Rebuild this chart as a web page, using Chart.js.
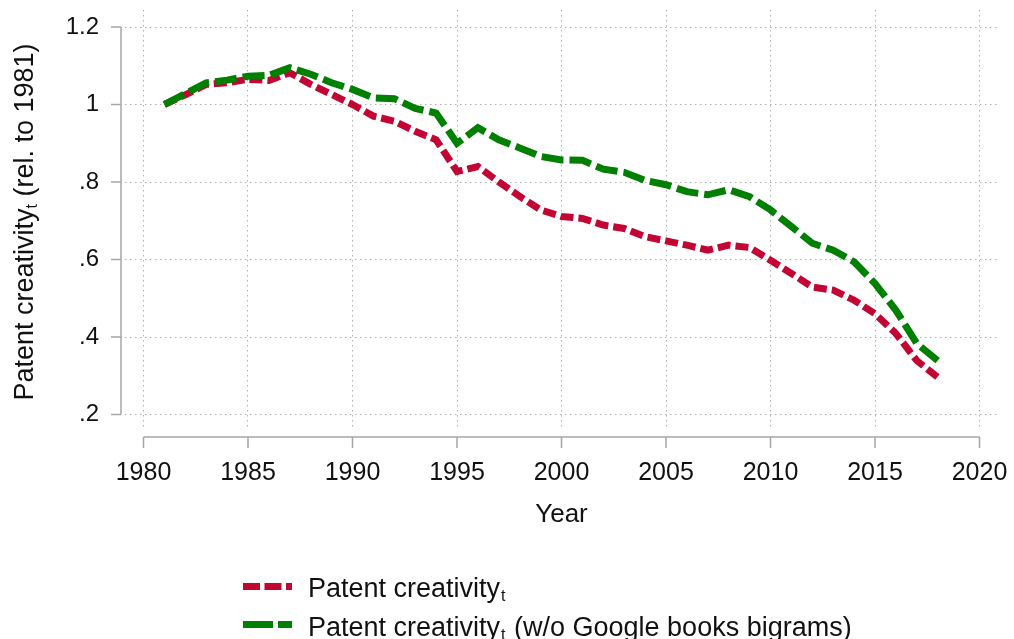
<!DOCTYPE html>
<html lang="en">
<head>
<meta charset="UTF-8">
<title>Patent creativity</title>
<script src="https://cdn.jsdelivr.net/npm/chart.js"></script>
<style>
  html, body { margin: 0; padding: 0; background: #fff; }
  #wrap { width: 1014px; height: 639px; }
</style>
</head>
<body>
<div id="wrap"><canvas id="myChart" width="1014" height="639"></canvas></div>
<script>
// data
var years = [1981, 1982, 1983, 1984, 1985, 1986, 1987, 1988, 1989, 1990,
             1991, 1992, 1993, 1994, 1995, 1996, 1997, 1998, 1999, 2000,
             2001, 2002, 2003, 2004, 2005, 2006, 2007, 2008, 2009, 2010,
             2011, 2012, 2013, 2014, 2015, 2016, 2017, 2018];
var creativity = [1.0, 1.025, 1.052, 1.056, 1.065, 1.062, 1.082, 1.052, 1.026, 1.0,
                  0.97, 0.957, 0.931, 0.909, 0.827, 0.84, 0.80, 0.763, 0.728, 0.711,
                  0.706, 0.689, 0.68, 0.659, 0.648, 0.637, 0.624, 0.637, 0.631, 0.598,
                  0.564, 0.529, 0.521, 0.495, 0.46, 0.409, 0.339, 0.296];
var creativityNoGoogle = [1.0, 1.028, 1.056, 1.063, 1.073, 1.075, 1.095, 1.078, 1.056, 1.039,
                          1.017, 1.015, 0.99, 0.978, 0.90, 0.94, 0.909, 0.888, 0.866, 0.857,
                          0.856, 0.833, 0.825, 0.804, 0.793, 0.775, 0.767, 0.78, 0.762, 0.728,
                          0.685, 0.642, 0.624, 0.594, 0.538, 0.469, 0.383, 0.339];
var xTicks = [1980, 1985, 1990, 1995, 2000, 2005, 2010, 2015, 2020];
var yTicks = [0.2, 0.4, 0.6, 0.8, 1.0, 1.2];
var yTickLabels = ['.2', '.4', '.6', '.8', '1', '1.2'];
var seriesNames = ['Patent creativity', 'Patent creativity'];
var seriesSuffix = ['', ' (w/o Google books bigrams)'];
var xTitle = 'Year';

var RED = 'rgb(195, 5, 52)';
var GREEN = 'rgb(0, 128, 0)';
var AXIS = '#a6a6a6';
var FONT = '"Liberation Sans", Arial, sans-serif';

function pts(vals) {
    return years.map(function (y, i) { return { x: y, y: vals[i] }; });
}

function noPad(s) {
    s.paddingLeft = 0; s.paddingRight = 0; s.paddingTop = 0; s.paddingBottom = 0;
}

// stata-like offset axes, titles and legend drawn by hand
var extras = {
    id: 'extras',
    afterDraw: function (chart) {
        var ctx = chart.ctx;
        var xs = chart.scales.x, ys = chart.scales.y;
        ctx.save();
        ctx.strokeStyle = AXIS;
        ctx.lineWidth = 1.5;
        // y axis
        var ax = 121;
        ctx.beginPath();
        ctx.moveTo(ax, ys.getPixelForValue(yTicks[yTicks.length - 1]));
        ctx.lineTo(ax, ys.getPixelForValue(yTicks[0]));
        yTicks.forEach(function (v) {
            var p = ys.getPixelForValue(v);
            ctx.moveTo(ax, p); ctx.lineTo(ax - 10, p);
        });
        ctx.stroke();
        // x axis
        var ay = 437;
        ctx.beginPath();
        ctx.moveTo(xs.getPixelForValue(xTicks[0]), ay);
        ctx.lineTo(xs.getPixelForValue(xTicks[xTicks.length - 1]), ay);
        xTicks.forEach(function (v) {
            var p = xs.getPixelForValue(v);
            ctx.moveTo(p, ay); ctx.lineTo(p, ay + 11);
        });
        ctx.stroke();

        ctx.fillStyle = '#111';
        // x title
        ctx.font = '26px ' + FONT;
        ctx.textAlign = 'center';
        ctx.textBaseline = 'middle';
        var cx = (xs.getPixelForValue(xTicks[0]) + xs.getPixelForValue(xTicks[xTicks.length - 1])) / 2;
        ctx.fillText(xTitle, cx, 515);

        // y title with subscript
        ctx.save();
        ctx.translate(33, 222);
        ctx.rotate(-Math.PI / 2);
        ctx.textAlign = 'left';
        ctx.textBaseline = 'alphabetic';
        var big = '27px ' + FONT, small = '16px ' + FONT;
        var a = 'Patent creativity', b = 't', c = ' (rel. to 1981)';
        ctx.font = big; var wa = ctx.measureText(a).width, wc = ctx.measureText(c).width;
        ctx.font = small; var wb = ctx.measureText(b).width;
        var x0 = -(wa + wb + wc) / 2;
        ctx.font = big; ctx.fillText(a, x0, 0);
        ctx.font = small; ctx.fillText(b, x0 + wa, 4);
        ctx.font = big; ctx.fillText(c, x0 + wa + wb, 0);
        ctx.restore();

        // legend
        var rows = [
            { color: RED, dash: [17, 4.5], y: 586.5, base: 597 },
            { color: GREEN, dash: [30, 5], y: 624.5, base: 636 }
        ];
        rows.forEach(function (r, i) {
            ctx.save();
            ctx.strokeStyle = r.color;
            ctx.lineWidth = 7;
            ctx.setLineDash(r.dash);
            ctx.beginPath();
            ctx.moveTo(243, r.y); ctx.lineTo(292, r.y);
            ctx.stroke();
            ctx.restore();
            ctx.textAlign = 'left';
            ctx.textBaseline = 'alphabetic';
            ctx.font = '27px ' + FONT;
            ctx.fillText(seriesNames[i], 308, r.base);
            var w1 = ctx.measureText(seriesNames[i]).width;
            ctx.font = '16px ' + FONT;
            ctx.fillText('t', 309 + w1, r.base + 4);
            var w2 = ctx.measureText('t').width;
            ctx.font = '27px ' + FONT;
            ctx.fillText(seriesSuffix[i], 310 + w1 + w2, r.base);
        });
        ctx.restore();
    }
};

var ctx = document.getElementById('myChart').getContext('2d');
var myChart = new Chart(ctx, {
    type: 'line',
    data: {
        datasets: [{
            label: 'Patent creativity (w/o Google books bigrams)',
            data: pts(creativityNoGoogle),
            borderColor: GREEN,
            borderWidth: 7,
            borderDash: [22, 6],
            pointRadius: 0,
            tension: 0,
            fill: false
        }, {
            label: 'Patent creativity',
            data: pts(creativity),
            borderColor: RED,
            borderWidth: 7,
            borderDash: [13, 5],
            pointRadius: 0,
            tension: 0,
            fill: false
        }]
    },
    options: {
        responsive: false,
        animation: false,
        devicePixelRatio: 1,
        layout: { padding: { top: 10, right: 14, left: 0, bottom: 0 } },
        plugins: {
            legend: { display: false },
            tooltip: { enabled: false }
        },
        scales: {
            x: {
                type: 'linear',
                min: 1979.115,
                max: 2020.98,
                afterBuildTicks: function (s) { s.ticks = xTicks.map(function (v) { return { value: v }; }); },
                afterFit: function (s) { s.height = 209; noPad(s); },
                grid: { color: '#b0b0b0', lineWidth: 1, drawTicks: false },
                border: { display: false, dash: [1.5, 3.5] },
                ticks: {
                    padding: 28,
                    color: '#111',
                    maxRotation: 0,
                    autoSkip: false,
                    font: { family: FONT, size: 25 },
                    callback: function (v) { return String(v); }
                }
            },
            y: {
                min: 0.16,
                max: 1.2439,
                afterBuildTicks: function (s) { s.ticks = yTicks.map(function (v) { return { value: v }; }); },
                afterFit: function (s) { s.width = 125; noPad(s); },
                grid: { color: '#b0b0b0', lineWidth: 1, drawTicks: false },
                border: { display: false, dash: [1.5, 3.5] },
                ticks: {
                    padding: 26,
                    color: '#111',
                    autoSkip: false,
                    font: { family: FONT, size: 24 },
                    callback: function (v) {
                        var i = yTicks.findIndex(function (t) { return Math.abs(t - v) < 1e-6; });
                        return i >= 0 ? yTickLabels[i] : '';
                    }
                }
            }
        }
    },
    plugins: [extras]
});
</script>
</body>
</html>
